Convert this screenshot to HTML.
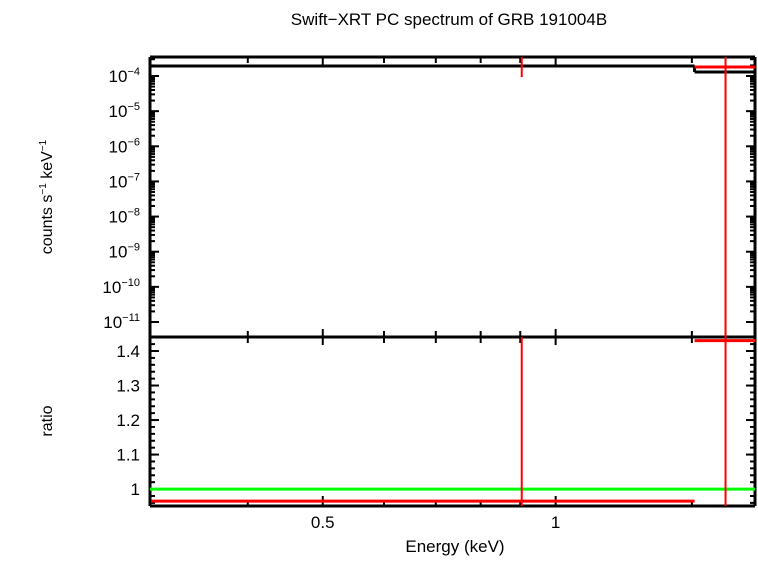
<!DOCTYPE html>
<html><head><meta charset="utf-8"><style>
body{margin:0;background:#fff;width:758px;height:556px;overflow:hidden}
text{font-family:"Liberation Sans",sans-serif;fill:#000}
</style></head><body>
<svg id="chart" width="758" height="556" xmlns="http://www.w3.org/2000/svg">
<text x="449" y="25" font-size="17" text-anchor="middle">Swift−XRT PC spectrum of GRB 191004B</text>
<text x="455" y="552" font-size="17" text-anchor="middle">Energy (keV)</text>
<text transform="translate(52,197) rotate(-90)" font-size="16" text-anchor="middle">counts s<tspan font-size="10" dy="-6">−1</tspan><tspan dy="6"> keV</tspan><tspan font-size="10" dy="-6">−1</tspan></text>
<text transform="translate(52,421) rotate(-90)" font-size="16" text-anchor="middle">ratio</text>
<g id="g"></g>
</svg>
<script>
const xTicksMajor=[0.5,1];
const xTicksMinor=[0.4,0.6,0.7,0.8,0.9,1.5];
const yTopDecades=[-4,-5,-6,-7,-8,-9,-10,-11];
const ratioTicks=[1,1.1,1.2,1.3,1.4];
const modelBinsLo=[0.3,1.512];
const modelBinsHi=[1.512,1.81];
const modelValues=[1.93e-4,1.3e-4];
const dataCenters=[0.904,1.658];
const dataValues=[5e-4,1.8e-4];
const dataLower=[9.3e-5,1e-12];
const ratioBinsLo=[0.3,1.512];
const ratioBinsHi=[1.512,1.81];
const ratioValues=[0.965,1.43];

const L=150,R=755,T=57,M=337,B=506;
const xmin=Math.log10(0.299),xmax=Math.log10(1.81);
const X=e=>L+(Math.log10(e)-xmin)/(xmax-xmin)*(R-L);
const ytMin=-11.427,ytMax=-3.459;
const YT=v=>{let l=Math.log10(v);l=Math.max(ytMin,Math.min(ytMax,l));return M-(l-ytMin)/(ytMax-ytMin)*(M-T);};
const rMin=0.951,rMax=1.4406;
const YR=v=>{v=Math.max(rMin,Math.min(rMax,v));return B-(v-rMin)/(rMax-rMin)*(B-M);};
const g=document.getElementById('g');
const NS='http://www.w3.org/2000/svg';
function line(x1,y1,x2,y2,c,w,name){const e=document.createElementNS(NS,'line');
e.setAttribute('x1',x1);e.setAttribute('y1',y1);e.setAttribute('x2',x2);e.setAttribute('y2',y2);
e.setAttribute('stroke',c);e.setAttribute('stroke-width',w);


g.appendChild(e);return e;}
function txt(x,y,s,anchor,name,sup){const e=document.createElementNS(NS,'text');
e.setAttribute('x',x);e.setAttribute('y',y);e.setAttribute('font-size','17');e.setAttribute('text-anchor',anchor);
e.textContent=s;
if(sup){const t=document.createElementNS(NS,'tspan');t.setAttribute('font-size','11');t.setAttribute('dy','-7');t.textContent=sup;e.appendChild(t);}


g.appendChild(e);}
// frame
line(L,T,R,T,'#000',3,'plot-frame-top');
line(L,M,R,M,'#000',3,'panel-divider');
line(L,B,R,B,'#000',3,'plot-frame-bottom');
line(L,T,L,B,'#000',3,'plot-frame-left');
line(R,T,R,B,'#000',3,'plot-frame-right');
// x ticks
xTicksMajor.forEach(v=>{const x=X(v);
[[M-8,M+8],[B-10,B],[T,T+10]].forEach(p=>line(x,p[0],x,p[1],'#000',2,'x-major-tick'));
txt(x,528,String(v),'middle','x-tick-label');});
xTicksMinor.forEach(v=>{const x=X(v);
[[M-6,M+6],[B-6,B],[T,T+6]].forEach(p=>line(x,p[0],x,p[1],'#000',2,'x-minor-tick'));});
// top y ticks
yTopDecades.forEach(d=>{const y=YT(Math.pow(10,d));
line(L,y,L+9,y,'#000',2,'top-y-major-tick');line(R-9,y,R,y,'#000',2,'top-y-major-tick');
txt(L-10,y+6,'10','end','top-y-tick-label',d<-9?'−'+(-d):'−'+(-d));
for(let k=2;k<10;k++){const yy=YT(k*Math.pow(10,d));if(yy>T+1&&yy<M-1){line(L,yy,L+5,yy,'#000',2,'top-y-minor-tick');line(R-5,yy,R,yy,'#000',2,'top-y-minor-tick');}}});
// ratio ticks
ratioTicks.forEach(v=>{const y=YR(v);
line(L,y,L+9,y,'#000',2,'ratio-major-tick');line(R-9,y,R,y,'#000',2,'ratio-major-tick');
txt(L-10,y+6,String(v),'end','ratio-tick-label');});
for(let v=0.96;v<1.44;v+=0.02){const y=YR(v);line(L,y,L+5,y,'#000',2,'ratio-minor-tick');line(R-5,y,R,y,'#000',2,'ratio-minor-tick');}
// model
modelValues.forEach((v,i)=>{line(X(modelBinsLo[i]),YT(v),X(modelBinsHi[i]),YT(v),'#000',3,'model-bin');
if(i>0)line(X(modelBinsLo[i]),YT(modelValues[i-1]),X(modelBinsLo[i]),YT(v),'#000',3,'model-step');});
// data
dataValues.forEach((v,i)=>{line(X(dataCenters[i]),YT(v),X(dataCenters[i]),YT(dataLower[i]),'#f00',2,'data-error-bar');
if(i==1)line(X(ratioBinsLo[i]),YT(v),X(ratioBinsHi[i]),YT(v),'#f00',3,'data-bin');});
// ratio
line(L,YR(1),R,YR(1),'#0f0',3,'unity-line');
ratioValues.forEach((v,i)=>{line(X(ratioBinsLo[i]),YR(v),X(ratioBinsHi[i]),YR(v),'#f00',3,'ratio-bin');
line(X(dataCenters[i]),i==0?M:T,X(dataCenters[i]),B,'#f00',2,'ratio-error-bar');});
</script>
</body></html>
